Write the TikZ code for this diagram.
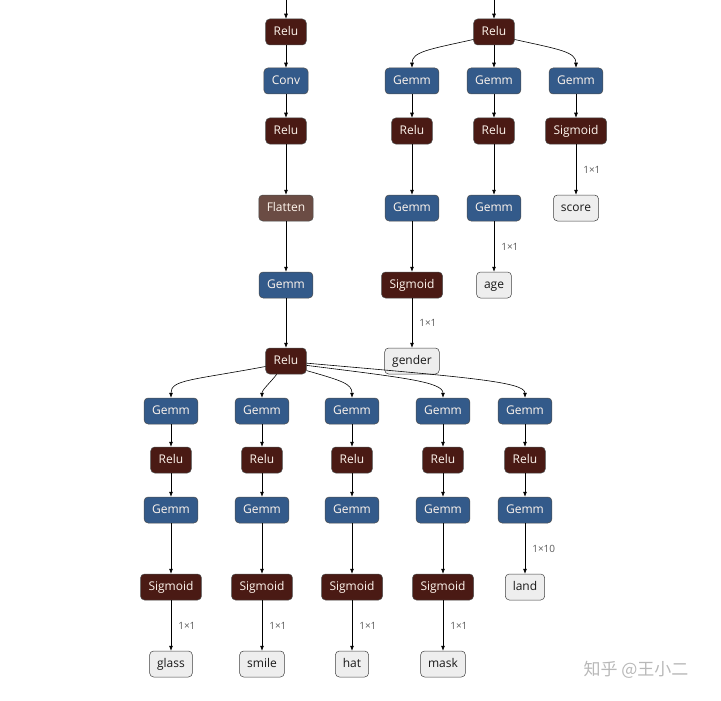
\documentclass[tikz,border=0pt]{standalone}
\usepackage{fontspec}
\setmainfont{Open Sans}
\newfontfamily\cjk{Noto Sans CJK SC}
\usetikzlibrary{arrows.meta}
\definecolor{relucol}{HTML}{4A1A14}
\definecolor{gemmcol}{HTML}{335A8A}
\definecolor{flatcol}{HTML}{6B4C44}
\definecolor{outcol}{HTML}{EEEEEE}
\definecolor{optext}{HTML}{FFF6EE}
\tikzset{
  op/.style={rounded corners=4pt, minimum height=26pt, inner xsep=8pt, inner ysep=0pt,
     text height=8.8pt, text depth=2.6pt, font=\fontsize{12}{14}\selectfont, text=optext, draw=black!70, line width=0.5pt},
  relu/.style={op, fill=relucol},
  gemm/.style={op, fill=gemmcol},
  flat/.style={op, fill=flatcol},
  outn/.style={op, fill=outcol, text=black!90, draw=black!75, inner xsep=7.5pt},
  lbl/.style={font=\fontsize{10}{12}\selectfont, text=black!65, inner sep=0pt},
  arr/.style={-{Latex[length=5pt,width=4pt]}, line width=0.6pt, black},
}
\begin{document}
\begin{tikzpicture}[x=1pt,y=-1pt]
\useasboundingbox (0,0) rectangle (721,701);
% left column
\coordinate (inA) at (286,0);
\node[relu] (r1) at (286,32) {Relu};
\node[gemm] (conv) at (286,81) {Conv};
\node[relu] (r2) at (286,131) {Relu};
\node[flat] (flat) at (286,208) {Flatten};
\node[gemm] (g0) at (286,285) {Gemm};
\node[relu] (r3) at (286,361) {Relu};
\draw[arr] (inA) -- (r1);
\draw[arr] (r1) -- (conv);
\draw[arr] (conv) -- (r2);
\draw[arr] (r2) -- (flat);
\draw[arr] (flat) -- (g0);
\draw[arr] (g0) -- (r3);
% right top
\coordinate (inB) at (494,0);
\node[relu] (rb) at (494,32) {Relu};
\draw[arr] (inB) -- (rb);
\node[gemm] (ga) at (412,81) {Gemm};
\node[gemm] (gb) at (494,81) {Gemm};
\node[gemm] (gc) at (576,81) {Gemm};
\node[relu] (ra) at (412,131) {Relu};
\node[relu] (rbb) at (494,131) {Relu};
\node[relu] (sc) at (576,131) {Sigmoid};
\node[gemm] (ga2) at (412,208) {Gemm};
\node[gemm] (gb2) at (494,208) {Gemm};
\node[outn] (score) at (576,208) {score};
\node[relu] (sa) at (412,285) {Sigmoid};
\node[outn] (age) at (494,285) {age};
\node[outn] (gender) at (412,361) {gender};
\draw[arr] (rb.200) .. controls +(-45,10) and +(0,-16) .. (ga.north);
\draw[arr] (rb) -- (gb);
\draw[arr] (rb.-20) .. controls +(45,10) and +(0,-16) .. (gc.north);
\draw[arr] (ga) -- (ra);
\draw[arr] (gb) -- (rbb);
\draw[arr] (gc) -- (sc);
\draw[arr] (ra) -- (ga2);
\draw[arr] (rbb) -- (gb2);
\draw[arr] (sc) -- node[lbl, right=7pt] {1×1} (score);
\draw[arr] (ga2) -- (sa);
\draw[arr] (gb2) -- node[lbl, right=7pt] {1×1} (age);
\draw[arr] (sa) -- node[lbl, right=7pt] {1×1} (gender);
% bottom branches
\foreach \i/\x in {1/171,2/262,3/352,4/443,5/525}{
  \node[gemm] (bg\i) at (\x,411) {Gemm};
  \node[relu] (br\i) at (\x,460) {Relu};
  \node[gemm] (bh\i) at (\x,510) {Gemm};
  \draw[arr] (bg\i) -- (br\i);
  \draw[arr] (br\i) -- (bh\i);
}
\draw[arr] (r3.195) .. controls +(-75,14) and +(0,-18) .. (bg1.north);
\draw[arr] (r3.235) .. controls +(-6,8) and +(0,-8) .. (bg2.north);
\draw[arr] (r3.-25) .. controls +(35,10) and +(0,-14) .. (bg3.north);
\draw[arr] (r3.-12) .. controls +(95,12) and +(0,-16) .. (bg4.north);
\draw[arr] (r3.-6) .. controls +(160,14) and +(0,-16) .. (bg5.north);
\foreach \i/\x/\t in {1/171/glass,2/262/smile,3/352/hat,4/443/mask}{
  \node[relu] (bs\i) at (\x,587) {Sigmoid};
  \node[outn] (bo\i) at (\x,664) {\t};
  \draw[arr] (bh\i) -- (bs\i);
  \draw[arr] (bs\i) -- node[lbl, right=7pt] {1×1} (bo\i);
}
\node[outn] (land) at (525,587) {land};
\draw[arr] (bh5) -- node[lbl, right=7pt] {1×10} (land);
% watermark
\node[font=\cjk\fontsize{17}{20}\selectfont, text=black!28, inner sep=0pt] (wm) at (636,670) {知乎 @王小二};
\end{tikzpicture}
\end{document}
